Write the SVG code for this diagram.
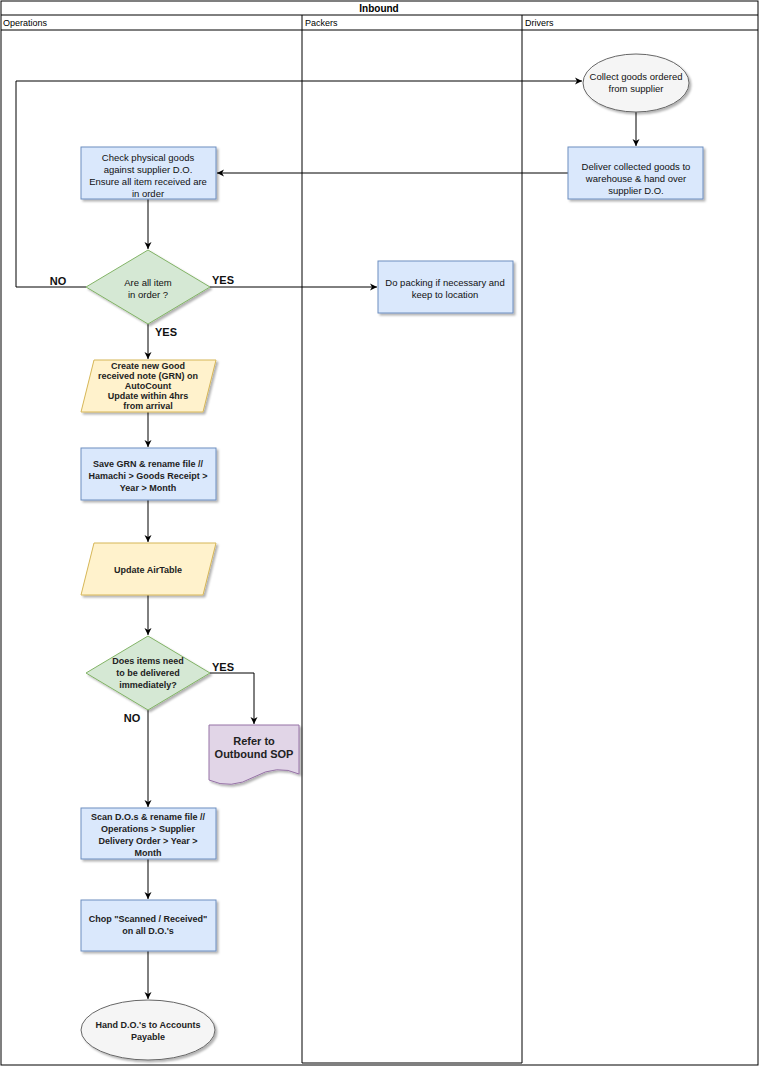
<svg xmlns="http://www.w3.org/2000/svg" width="766" height="1073" viewBox="0 0 766 1073">
<defs>
<filter id="sh" x="-10%" y="-10%" width="130%" height="140%"><feDropShadow dx="2" dy="2" stdDeviation="1" flood-color="#000" flood-opacity="0.3"/></filter>
<marker id="ar" markerWidth="8" markerHeight="8" refX="7" refY="4" orient="auto" markerUnits="userSpaceOnUse"><path d="M0,0.5 L7,4 L0,7.5 L2,4 Z" fill="#000"/></marker>
<style>
.lane{fill:none;stroke:#000;stroke-width:1}
.hd{font-family:"Liberation Sans",Arial,sans-serif;font-size:9px;fill:#000}
.box{fill:#dae8fc;stroke:#6c8ebf;stroke-width:1;filter:url(#sh)}
.io{fill:#fff2cc;stroke:#d6b656;stroke-width:1;filter:url(#sh)}
.dec{fill:#d5e8d4;stroke:#82b366;stroke-width:1;filter:url(#sh)}
.term{fill:#f5f5f5;stroke:#666;stroke-width:1;filter:url(#sh)}
.doc{fill:#e1d5e7;stroke:#9673a6;stroke-width:1;filter:url(#sh)}
.t{font-family:"Liberation Sans",Arial,sans-serif;font-size:9.5px;fill:#111;text-anchor:middle}
.b{font-family:"Liberation Sans",Arial,sans-serif;font-size:9px;font-weight:bold;fill:#222;text-anchor:middle}
.big{font-family:"Liberation Sans",Arial,sans-serif;font-size:11px;font-weight:bold;fill:#222;text-anchor:middle}
.lbl{font-family:"Liberation Sans",Arial,sans-serif;font-size:11px;font-weight:bold;fill:#111;text-anchor:middle}
.c{fill:none;stroke:#000;stroke-width:1;marker-end:url(#ar)}
</style>
</defs>
<rect width="766" height="1073" fill="#fff"/>
<g id="pool">
<rect class="lane" x="1" y="1" width="757" height="1064"/>
<line class="lane" x1="1" y1="15" x2="758" y2="15"/>
<line class="lane" x1="1" y1="30" x2="758" y2="30" stroke-width="1.5"/>
<line class="lane" x1="302" y1="15" x2="302" y2="1063"/>
<line class="lane" x1="522" y1="15" x2="522" y2="1063"/>
<line class="lane" x1="302" y1="1063" x2="522" y2="1063"/>
<text class="hd" x="379" y="12" text-anchor="middle" style="font-weight:bold;font-size:10px">Inbound</text>
<text class="hd" x="3" y="26">Operations</text>
<text class="hd" x="305" y="26">Packers</text>
<text class="hd" x="525" y="26">Drivers</text>
</g>
<g id="connectors">
<path class="c" d="M636,112 V146"/>
<path class="c" d="M568,173 H217"/>
<path class="c" d="M148,199 V249"/>
<path class="c" d="M86,287 H16 V81 H582"/>
<path class="c" d="M210,287 H377"/>
<path class="c" d="M148,324 V359"/>
<path class="c" d="M148,412 V447"/>
<path class="c" d="M148,500 V542"/>
<path class="c" d="M148,595 V635"/>
<path class="c" d="M210,673 H254 V724"/>
<path class="c" d="M148,710 V807"/>
<path class="c" d="M148,859 V899"/>
<path class="c" d="M148,951 V999"/>
<text class="lbl" x="58" y="285">NO</text>
<text class="lbl" x="223" y="284">YES</text>
<text class="lbl" x="166" y="336">YES</text>
<text class="lbl" x="223" y="671">YES</text>
<text class="lbl" x="132" y="722">NO</text>
</g>
<g id="collect"><ellipse class="term" cx="636" cy="83" rx="53" ry="29"/><text class="t" x="636" y="80">Collect goods ordered</text><text class="t" x="636" y="92">from supplier</text></g>
<g id="deliver"><rect class="box" x="568" y="147" width="135" height="52"/><text class="t" x="636" y="170">Deliver collected goods to</text><text class="t" x="636" y="182">warehouse &amp; hand over</text><text class="t" x="636" y="194">supplier D.O.</text></g>
<g id="check"><rect class="box" x="81" y="147" width="135" height="52"/><text class="t" x="148" y="161">Check physical goods</text><text class="t" x="148" y="173">against supplier D.O.</text><text class="t" x="148" y="185">Ensure all item received are</text><text class="t" x="148" y="197">in order</text></g>
<g id="dec1"><polygon class="dec" points="148,250 210,287 148,324 86,287"/><text class="t" x="148" y="286">Are all item</text><text class="t" x="148" y="298">in order ?</text></g>
<g id="packing"><rect class="box" x="378" y="261" width="135" height="52"/><text class="t" x="445" y="286">Do packing if necessary and</text><text class="t" x="445" y="298">keep to location</text></g>
<g id="grn"><polygon class="io" points="94,360 216,360 203,412 81,412"/><text class="b" x="148" y="369">Create new Good</text><text class="b" x="148" y="379">received note (GRN) on</text><text class="b" x="148" y="389">AutoCount</text><text class="b" x="148" y="399">Update within 4hrs</text><text class="b" x="148" y="409">from arrival</text></g>
<g id="save"><rect class="box" x="81" y="448" width="135" height="52"/><text class="b" x="148" y="467">Save GRN &amp; rename file //</text><text class="b" x="148" y="479">Hamachi &gt; Goods Receipt &gt;</text><text class="b" x="148" y="491">Year &gt; Month</text></g>
<g id="airtable"><polygon class="io" points="94,543 216,543 203,595 81,595"/><text class="b" x="148" y="573">Update AirTable</text></g>
<g id="dec2"><polygon class="dec" points="148,636 210,673 148,710 86,673"/><text class="b" x="148" y="664">Does items need</text><text class="b" x="148" y="676">to be delivered</text><text class="b" x="148" y="688">immediately?</text></g>
<g id="outbound"><path class="doc" d="M209,725 H299 V774 Q277,764 254,777 Q231,790 209,780 Z"/><text class="big" x="254" y="745">Refer to</text><text class="big" x="254" y="758">Outbound SOP</text></g>
<g id="scan"><rect class="box" x="81" y="808" width="135" height="51"/><text class="b" x="148" y="820">Scan D.O.s &amp; rename file  //</text><text class="b" x="148" y="832">Operations &gt; Supplier</text><text class="b" x="148" y="844">Delivery Order &gt; Year &gt;</text><text class="b" x="148" y="856">Month</text></g>
<g id="chop"><rect class="box" x="81" y="900" width="135" height="51"/><text class="b" x="148" y="922">Chop "Scanned / Received"</text><text class="b" x="148" y="934">on all D.O.'s</text></g>
<g id="hand"><ellipse class="term" cx="148" cy="1030" rx="67" ry="30"/><text class="b" x="148" y="1028">Hand D.O.'s to Accounts</text><text class="b" x="148" y="1040">Payable</text></g>
</svg>
